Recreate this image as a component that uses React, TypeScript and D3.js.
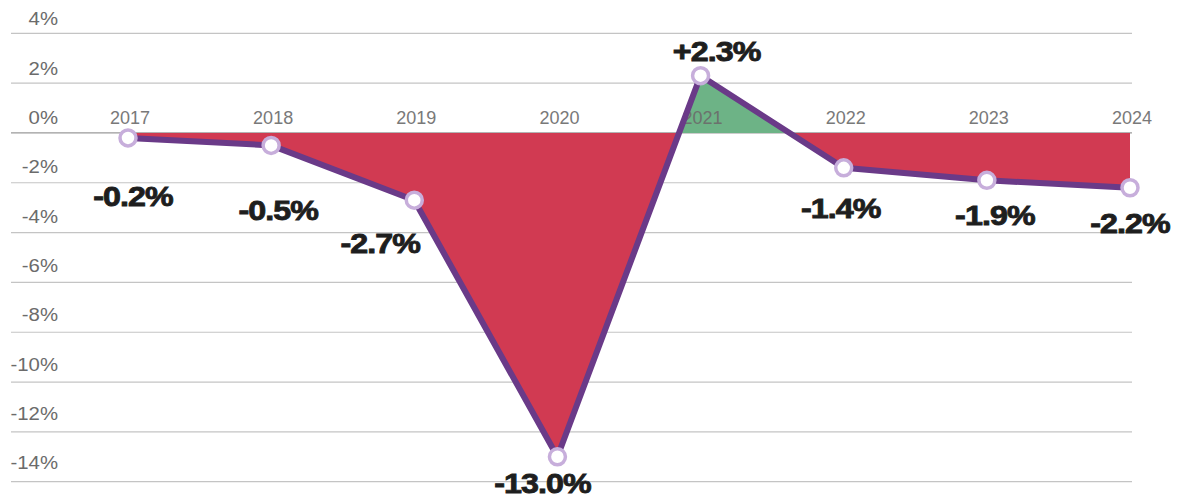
import React from "react";
import * as d3 from "d3";

const years = ["2017", "2018", "2019", "2020", "2021", "2022", "2023", "2024"];
const values = [-0.2, -0.5, -2.7, -13.0, 2.3, -1.4, -1.9, -2.2];
const valueLabels = ["-0.2%", "-0.5%", "-2.7%", "-13.0%", "+2.3%", "-1.4%", "-1.9%", "-2.2%"];
const yTicks = [4, 2, 0, -2, -4, -6, -8, -10, -12, -14];

// label offsets relative to the point (annotation placement)
const labelDx = [5, 7, -34, -15, 16, -3, 8, 0];
const labelDy = [68, 75, 53, 36, -15, 50, 45, 45];

const W = 1187;
const H = 498;

export default function App() {
  const x = d3.scalePoint<string>().domain(years).range([128, 1130]);
  const y = d3.scaleLinear().domain([-14, 4]).range([481.7, 33.3]);
  const pts = years.map((yr, i) => ({ yr, v: values[i], x: x(yr) as number, y: y(values[i]) }));
  const area = d3
    .area<typeof pts[0]>()
    .x((d) => d.x)
    .y0(y(0))
    .y1((d) => d.y);
  const line = d3
    .line<typeof pts[0]>()
    .x((d) => d.x)
    .y((d) => d.y);
  const y0 = y(0);
  const gridX0 = 11;
  const gridX1 = 1132;
  return (
    <svg
      width={W}
      height={H}
      style={{ position: "absolute", left: 0, top: 0, display: "block" }}
      fontFamily="'Liberation Sans', Arial, Helvetica, sans-serif"
    >
      <defs>
        <clipPath id="above">
          <rect x={0} y={0} width={W} height={y0} />
        </clipPath>
        <clipPath id="below">
          <rect x={0} y={y0} width={W} height={H - y0} />
        </clipPath>
      </defs>
      {yTicks.map((t) => (
        <g key={t}>
          <line
            x1={gridX0}
            x2={gridX1}
            y1={y(t)}
            y2={y(t)}
            stroke={t === 0 ? "#9a9a9a" : "#c4c4c4"}
            strokeWidth={1.2}
          />
          <text
            transform={`translate(58,${y(t) - 9 - -t * 0.25}) scale(1.1,1)`}
            textAnchor="end"
            fontSize={18.5}
            fill="#6b6b6b"
          >
            {t}%
          </text>
        </g>
      ))}
      <path d={area(pts) || ""} fill="#d13a52" clipPath="url(#below)" />
      <path d={area(pts) || ""} fill="#6db386" clipPath="url(#above)" />
      {pts.map((p) => (
        <text
          key={"yr" + p.yr}
          x={p.x + 2}
          y={124}
          textAnchor="middle"
          fontSize={18}
          fill="#6b6b6b"
          opacity={0.9}
        >
          {p.yr}
        </text>
      ))}
      <path
        d={line(pts) || ""}
        fill="none"
        stroke="#6a3a88"
        strokeWidth={6}
        strokeLinejoin="round"
      />
      {pts.map((p) => (
        <circle
          key={"c" + p.yr}
          cx={p.x}
          cy={p.y}
          r={8}
          fill="#ffffff"
          stroke="#c7aedb"
          strokeWidth={3.5}
        />
      ))}
      {pts.map((p, i) => (
        <text
          key={"l" + p.yr}
          transform={`translate(${p.x + labelDx[i]},${p.y + labelDy[i]}) scale(1.15,1)`}
          textAnchor="middle"
          fontSize={28}
          fontWeight={700}
          fill="#1e1e1e"
          stroke="#1e1e1e"
          strokeWidth={0.9}
          letterSpacing={-0.8}
        >
          {valueLabels[i]}
        </text>
      ))}
    </svg>
  );
}
